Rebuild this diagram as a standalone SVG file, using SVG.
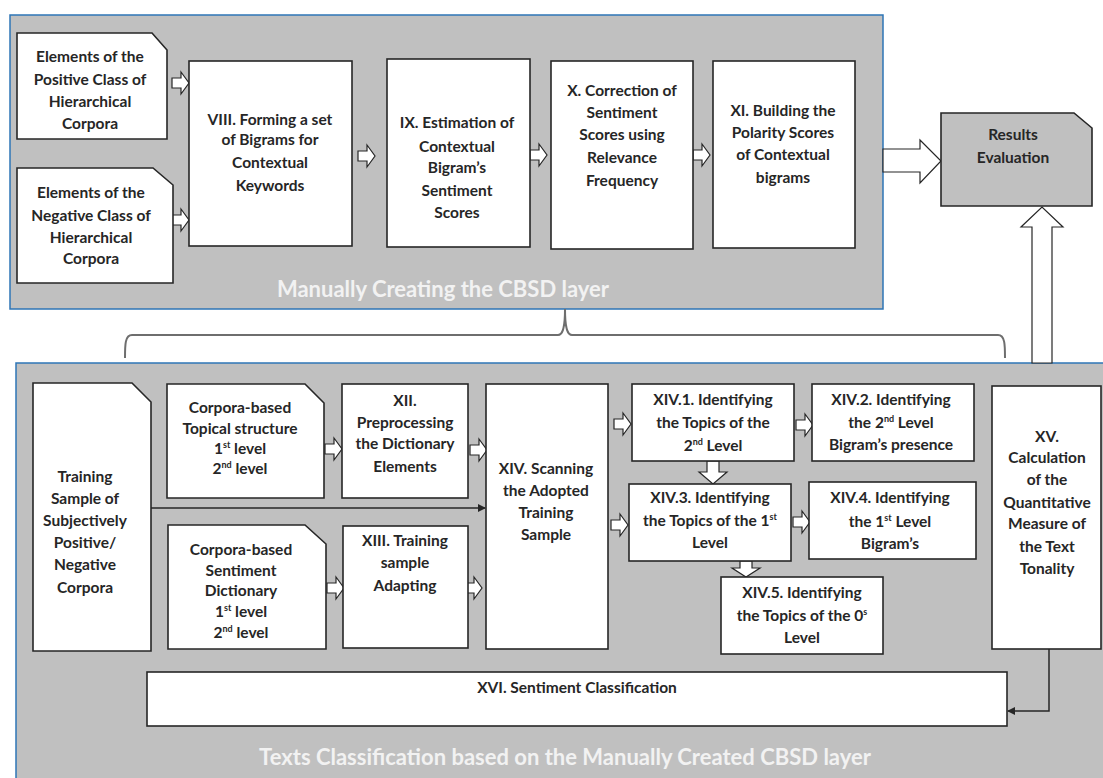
<svg xmlns="http://www.w3.org/2000/svg" width="1103" height="778" viewBox="0 0 1103 778">
<defs>
<style>
.panel{fill:#c0c0c0;stroke:#2e75b6;stroke-width:1.5}
.box{fill:#fff;stroke:#262626;stroke-width:1.6}
.gbox{fill:#c0c0c0;stroke:#262626;stroke-width:1.6}
.arr{fill:#fff;stroke:#262626;stroke-width:1.2;stroke-linejoin:miter}
.t{font-family:Lato,"Liberation Sans",sans-serif;font-weight:bold;font-size:15.5px;fill:#262626;text-anchor:middle}
.title{font-family:Lato,"Liberation Sans",sans-serif;font-weight:bold;font-size:22px;fill:#f2f2f2;text-anchor:middle}
.sup{font-size:9px}
.line{fill:none;stroke:#262626;stroke-width:1.5}
.brace{fill:none;stroke:#6e6e6e;stroke-width:2}
</style>
<path id="ra" d="M-9,-5 H0 V-11 L8,0 L0,11 V5 H-9 Z"/>
<marker id="ah" markerWidth="8" markerHeight="8" refX="7" refY="4" orient="auto" markerUnits="userSpaceOnUse">
<path d="M0,0 L8,4 L0,8 Z" fill="#262626"/>
</marker>
</defs>
<rect width="1103" height="778" fill="#fff"/>

<g id="panel-top">
<rect class="panel" x="10" y="15" width="873" height="294"/>
<text class="title" x="443" y="297">Manually Creating the CBSD layer</text>
</g>
<g id="panel-bottom">
<rect class="panel" x="16" y="363" width="1100" height="430"/>
<text class="title" x="565" y="765">Texts Classification based on the Manually Created CBSD layer</text>
</g>

<g id="connectors">
<path class="brace" d="M125,358 C125,345 125,335 132,335 H558 C562,335 565,330 565,309 C565,330 568,335 572,335 H998 C1005,335 1005,345 1005,358"/>
<use href="#ra" class="arr" x="181" y="83"/>
<use href="#ra" class="arr" x="181" y="220"/>
<use href="#ra" class="arr" x="367" y="156"/>
<use href="#ra" class="arr" x="539" y="155"/>
<use href="#ra" class="arr" x="702" y="155"/>
<path class="arr" d="M883,149 H920 V140 L941,161 L920,183 V172 H883 Z"/>
<path class="arr" d="M1032,363 V227 H1021 L1042,207 L1063,227 H1052 V363 Z"/>
<use href="#ra" class="arr" x="334" y="449"/>
<use href="#ra" class="arr" x="336" y="588"/>
<use href="#ra" class="arr" x="479" y="450"/>
<use href="#ra" class="arr" x="474" y="588"/>
<use href="#ra" class="arr" x="623" y="424"/>
<use href="#ra" class="arr" x="620" y="525"/>
<use href="#ra" class="arr" x="805" y="425"/>
<use href="#ra" class="arr" x="802" y="522"/>
<path class="arr" d="M707,461 V472 H699 L713,484 L727,472 H719 V461 Z"/>
<path class="arr" d="M740,561 V568 H732 L746,577 L760,568 H752 V561 Z"/>
<path class="line" d="M151,508 H485" marker-end="url(#ah)"/>
<path class="line" d="M1049,649 V711 H1008" marker-end="url(#ah)"/>
</g>

<g id="n-pos">
<path class="box" d="M17,33 H152 L167,50 V139 H17 Z"/>
<text class="t" x="90"><tspan x="90" y="62">Elements of the</tspan><tspan x="90" y="85">Positive Class of</tspan><tspan x="90" y="107">Hierarchical</tspan><tspan x="90" y="129">Corpora</tspan></text>
</g>
<g id="n-neg">
<path class="box" d="M17,168 H153 L173,185 V283 H17 Z"/>
<text class="t"><tspan x="91" y="198">Elements of the</tspan><tspan x="91" y="221">Negative Class of</tspan><tspan x="91" y="243">Hierarchical</tspan><tspan x="91" y="264">Corpora</tspan></text>
</g>
<g id="n-viii">
<rect class="box" x="189" y="61" width="163" height="185"/>
<text class="t"><tspan x="270" y="125">VIII. Forming a set</tspan><tspan x="270" y="145">of Bigrams for</tspan><tspan x="270" y="168">Contextual</tspan><tspan x="270" y="191">Keywords</tspan></text>
</g>
<g id="n-ix">
<rect class="box" x="387" y="59" width="143" height="188"/>
<text class="t"><tspan x="457" y="128">IX. Estimation of</tspan><tspan x="457" y="152">Contextual</tspan><tspan x="457" y="173">Bigram’s</tspan><tspan x="457" y="196">Sentiment</tspan><tspan x="457" y="218">Scores</tspan></text>
</g>
<g id="n-x">
<rect class="box" x="551" y="61" width="142" height="188"/>
<text class="t"><tspan x="622" y="96">X. Correction of</tspan><tspan x="622" y="118">Sentiment</tspan><tspan x="622" y="140">Scores using</tspan><tspan x="622" y="163">Relevance</tspan><tspan x="622" y="186">Frequency</tspan></text>
</g>
<g id="n-xi">
<rect class="box" x="713" y="61" width="142" height="187"/>
<text class="t"><tspan x="783" y="116">XI. Building the</tspan><tspan x="783" y="138">Polarity Scores</tspan><tspan x="783" y="160">of Contextual</tspan><tspan x="783" y="183">bigrams</tspan></text>
</g>
<g id="n-results">
<path class="gbox" d="M941,113 H1074 L1092,128 V206 H941 Z"/>
<text class="t"><tspan x="1013" y="140">Results</tspan><tspan x="1013" y="163">Evaluation</tspan></text>
</g>

<g id="n-training">
<path class="box" d="M33,383 H132 L151,402 V651 H33 Z"/>
<text class="t"><tspan x="85" y="482">Training</tspan><tspan x="85" y="504">Sample of</tspan><tspan x="85" y="526">Subjectively</tspan><tspan x="85" y="548">Positive/</tspan><tspan x="85" y="570">Negative</tspan><tspan x="85" y="593">Corpora</tspan></text>
</g>
<g id="n-topical">
<path class="box" d="M167,384 H305 L324,403 V498 H167 Z"/>
<text class="t"><tspan x="240" y="413">Corpora-based</tspan><tspan x="240" y="434">Topical structure</tspan><tspan x="240" y="454">1<tspan class="sup" dy="-6">st</tspan><tspan dy="6"> level</tspan></tspan><tspan x="240" y="474">2<tspan class="sup" dy="-6">nd</tspan><tspan dy="6"> level</tspan></tspan></text>
</g>
<g id="n-sentdict">
<path class="box" d="M168,525 H305 L326,544 V649 H168 Z"/>
<text class="t"><tspan x="241" y="555">Corpora-based</tspan><tspan x="241" y="576">Sentiment</tspan><tspan x="241" y="596">Dictionary</tspan><tspan x="241" y="617">1<tspan class="sup" dy="-6">st</tspan><tspan dy="6"> level</tspan></tspan><tspan x="241" y="638">2<tspan class="sup" dy="-6">nd</tspan><tspan dy="6"> level</tspan></tspan></text>
</g>
<g id="n-xii">
<rect class="box" x="342" y="384" width="126" height="114"/>
<text class="t"><tspan x="405" y="406">XII.</tspan><tspan x="405" y="428">Preprocessing</tspan><tspan x="405" y="449">the Dictionary</tspan><tspan x="405" y="472">Elements</tspan></text>
</g>
<g id="n-xiii">
<rect class="box" x="343" y="526" width="125" height="122"/>
<text class="t"><tspan x="405" y="546">XIII. Training</tspan><tspan x="405" y="568">sample</tspan><tspan x="405" y="591">Adapting</tspan></text>
</g>
<g id="n-xiv">
<rect class="box" x="486" y="384" width="122" height="265"/>
<text class="t"><tspan x="546" y="474">XIV. Scanning</tspan><tspan x="546" y="496">the Adopted</tspan><tspan x="546" y="518">Training</tspan><tspan x="546" y="540">Sample</tspan></text>
</g>
<g id="n-xiv1">
<rect class="box" x="632" y="384" width="162" height="77"/>
<text class="t"><tspan x="713" y="405">XIV.1. Identifying</tspan><tspan x="713" y="428">the Topics of the</tspan><tspan x="713" y="451">2<tspan class="sup" dy="-6">nd</tspan><tspan dy="6"> Level</tspan></tspan></text>
</g>
<g id="n-xiv2">
<rect class="box" x="812" y="384" width="162" height="77"/>
<text class="t"><tspan x="891" y="405">XIV.2. Identifying</tspan><tspan x="891" y="428">the 2<tspan class="sup" dy="-6">nd</tspan><tspan dy="6"> Level</tspan></tspan><tspan x="891" y="450">Bigram’s presence</tspan></text>
</g>
<g id="n-xiv3">
<rect class="box" x="629" y="484" width="162" height="77"/>
<text class="t"><tspan x="710" y="503">XIV.3. Identifying</tspan><tspan x="710" y="526">the Topics of the 1<tspan class="sup" dy="-6">st</tspan></tspan><tspan x="710" y="548">Level</tspan></text>
</g>
<g id="n-xiv4">
<rect class="box" x="809" y="482" width="167" height="77"/>
<text class="t"><tspan x="890" y="503">XIV.4. Identifying</tspan><tspan x="890" y="527">the 1<tspan class="sup" dy="-6">st</tspan><tspan dy="6"> Level</tspan></tspan><tspan x="890" y="549">Bigram’s</tspan></text>
</g>
<g id="n-xiv5">
<rect class="box" x="721" y="577" width="162" height="77"/>
<text class="t"><tspan x="802" y="598">XIV.5. Identifying</tspan><tspan x="802" y="621">the Topics of the 0<tspan class="sup" dy="-6">s</tspan></tspan><tspan x="802" y="643">Level</tspan></text>
</g>
<g id="n-xv">
<rect class="box" x="992" y="386" width="109" height="263"/>
<text class="t"><tspan x="1047" y="442">XV.</tspan><tspan x="1047" y="463">Calculation</tspan><tspan x="1047" y="485">of the</tspan><tspan x="1047" y="508">Quantitative</tspan><tspan x="1047" y="529">Measure of</tspan><tspan x="1047" y="552">the Text</tspan><tspan x="1047" y="574">Tonality</tspan></text>
</g>
<g id="n-xvi">
<rect class="box" x="147" y="672" width="860" height="54"/>
<text class="t" x="577" y="693">XVI. Sentiment Classification</text>
</g>
</svg>
